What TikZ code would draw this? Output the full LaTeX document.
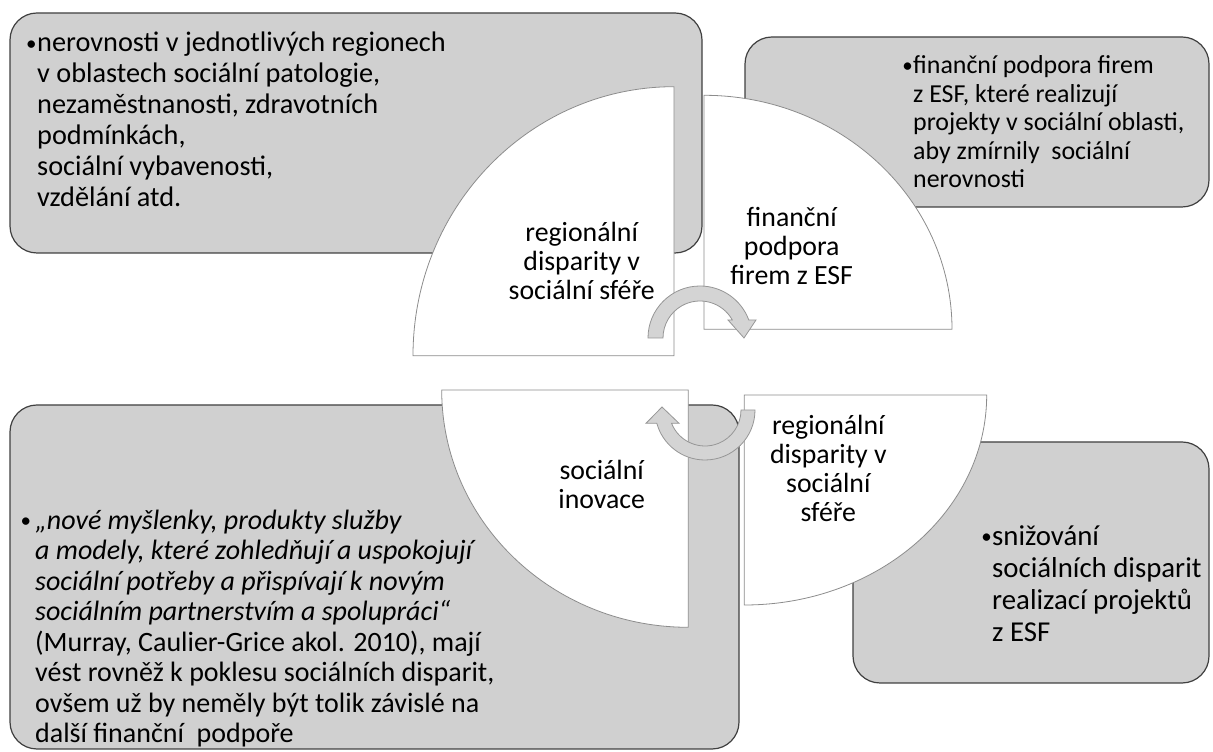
\documentclass[tikz,border=0pt]{standalone}
\usepackage{fontspec}
\setmainfont{Carlito}
\usetikzlibrary{arrows.meta}
\definecolor{boxgray}{RGB}{208,208,208}
\definecolor{boxline}{RGB}{64,64,64}
\definecolor{secline}{RGB}{140,140,140}
\definecolor{turnfill}{RGB}{212,212,212}
\definecolor{turnline}{RGB}{150,150,150}
\newcommand{\bul}{\llap{\raisebox{1.5pt}{\fontsize{21}{21}\selectfont\textbullet}\hspace{0.5pt}}}

\begin{document}
\begin{tikzpicture}[
    x=1pt, y=1pt,
    note/.style={draw=boxline, fill=boxgray, line width=1.2pt,
                 rounded corners=27pt},
    notetext/.style={anchor=west, inner sep=0pt, align=left},
    sector/.style={draw=secline, fill=white, line width=0.8pt},
    sectortext/.style={inner sep=0pt, align=center,
                       font=\fontsize{27.8}{29}\selectfont},
    turn/.style={draw=turnline, fill=turnfill, line width=0.8pt},
  ]

  \useasboundingbox (0,0) rectangle (1213,752);

  \node[note, minimum width=692pt, minimum height=240pt] (ineq) at (356,619) {};
  \node[note, minimum width=464pt, minimum height=170pt] (funding) at (977,630) {};
  \node[note, minimum width=729pt, minimum height=344pt] (innov) at (374.5,175) {};
  \node[note, minimum width=356pt, minimum height=241pt] (reduce) at (1031,189.5) {};

  \node[notetext, font=\fontsize{28.3}{31}\selectfont] (ineqtext) at (37,632.6)
    {\bul nerovnosti v jednotlivých regionech\\v oblastech sociální patologie,\\
     nezaměstnanosti, zdravotních\\podmínkách,\\sociální vybavenosti,\\vzdělání atd.};
  \node[notetext, font=\fontsize{25.9}{28.5}\selectfont] (fundingtext) at (913,630.3)
    {\bul finanční podpora firem\\z ESF, které realizují\\projekty v sociální oblasti,\\
     aby zmírnily~ sociální\\nerovnosti};
  \node[notetext, font=\fontsize{28}{30.5}\selectfont] (innovtext) at (35,123.6)
    {\llap{\raisebox{1.5pt}{\fontsize{21}{21}\selectfont\textbullet}\hspace{4pt}}%
     \textit{„nové myšlenky, produkty služby}\\
     \textit{a modely, které zohledňují a uspokojují}\\
     \textit{sociální potřeby a přispívají k novým}\\
     \textit{sociálním partnerstvím a spolupráci“}\\
     (Murray, Caulier-Grice akol. 2010), mají\\
     vést rovněž k poklesu sociálních disparit,\\
     ovšem už by neměly být tolik závislé na\\
     další finanční~ podpoře};
  \node[notetext, font=\fontsize{28.8}{32}\selectfont] (reducetext) at (992,168.7)
    {\bul snižování\\sociálních disparit\\realizací projektů\\z ESF};

  \draw[sector] (674,396.3) -- ++(-261,0)
    arc[start angle=180, end angle=90, x radius=261, y radius=269] -- cycle;
  \draw[sector] (704,422.7) -- ++(248,0)
    arc[start angle=0, end angle=90, x radius=248, y radius=234] -- cycle;
  \draw[sector] (688.3,362) -- ++(-246.6,0)
    arc[start angle=180, end angle=270, x radius=246.6, y radius=237.3] -- cycle;
  \draw[sector] (744.3,357) -- ++(242.4,0)
    arc[start angle=0, end angle=-90, x radius=242.4, y radius=210] -- cycle;

  \node[sectortext] (s1) at (581.7,491.1) {regionální\\disparity v\\sociální sféře};
  \node[sectortext] (s2) at (791.7,506.2) {finanční\\podpora\\firem z ESF};
  \node[sectortext] (s3) at (601.7,267.8) {sociální\\inovace};
  \node[sectortext] (s4) at (828.3,283.7) {regionální\\disparity v\\sociální\\sféře};

  \coordinate (c1) at (700,414);
  \coordinate (c2) at (705,342);

  \draw[turn, shift={(c1)}] (180:52) arc[start angle=180, end angle=20.3, radius=52]
    -- (56,18) -- (44,0) -- (28,18) -- (29.1:37)
    arc[start angle=29.1, end angle=180, radius=37] -- cycle;
  \draw[turn, shift={(c2)}] (0:50) arc[start angle=0, end angle=-164.6, radius=50]
    -- (-59,-13.3) -- (-43,3) -- (-26,-13.3) -- (-158.3:36)
    arc[start angle=-158.3, end angle=0, radius=36] -- cycle;

\end{tikzpicture}
\end{document}
